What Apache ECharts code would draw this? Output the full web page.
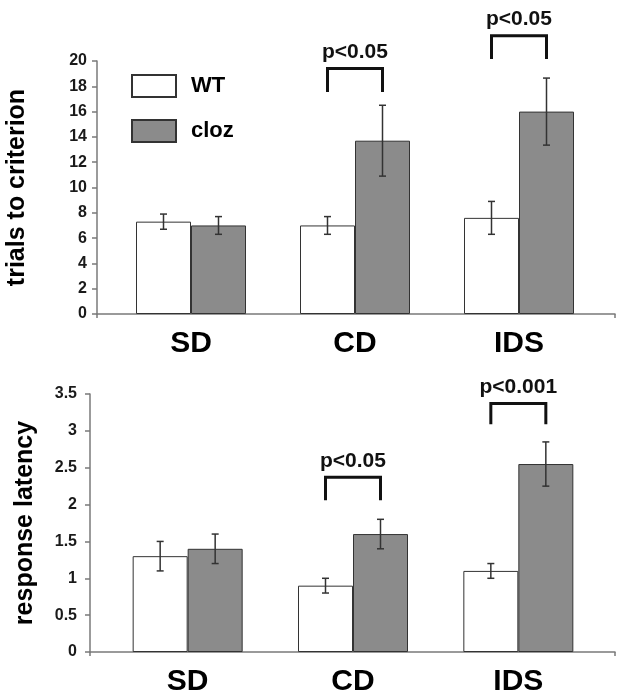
<!DOCTYPE html>
<html>
<head>
<meta charset="utf-8">
<script src="https://cdn.jsdelivr.net/npm/echarts@6/dist/echarts.min.js"></script>
<style>html,body{margin:0;padding:0;background:#fff;}#c{width:624px;height:699px;}</style>
</head>
<body>
<div id="c"></div>
<script>
const categories = ['SD', 'CD', 'IDS'];
const trialsTicks = [0, 20, 2];
const latencyTicks = [0, 3.5, 0.5];

const trialsWT = [7.3, 7.0, 7.6];
const trialsWTErr = [0.6, 0.7, 1.3];
const trialsCloz = [7.0, 13.7, 16.0];
const trialsClozErr = [0.7, 2.8, 2.65];

const latencyWT = [1.3, 0.9, 1.1];
const latencyWTErr = [0.2, 0.1, 0.1];
const latencyCloz = [1.4, 1.6, 2.55];
const latencyClozErr = [0.2, 0.2, 0.3];

const trialsSigCats = [1, 2];
const trialsSigTop = [19.4, 22.0];
const trialsSigBottom = [17.55, 20.15];
const trialsSigText = ['p<0.05', 'p<0.05'];

const latencySigCats = [1, 2];
const latencySigTop = [2.37, 3.37];
const latencySigBottom = [2.06, 3.09];
const latencySigText = ['p<0.05', 'p<0.001'];

const FONT = "'Liberation Sans', Arial, sans-serif";
const BAR_W = 55;
const GRAY = '#8b8b8b';
const AXIS = '#7a7a7a';

function errData(vals, errs) {
  return vals.map((v, i) => [i, v - errs[i], v + errs[i]]);
}
function errRender(offset) {
  return function (params, api) {
    const c = api.value(0);
    const lo = api.coord([c, api.value(1)]);
    const hi = api.coord([c, api.value(2)]);
    const x = lo[0] + offset;
    const st = { stroke: '#333', lineWidth: 1.5 };
    return {
      type: 'group',
      children: [
        { type: 'line', shape: { x1: x, y1: lo[1], x2: x, y2: hi[1] }, style: st },
        { type: 'line', shape: { x1: x - 3.5, y1: lo[1], x2: x + 3.5, y2: lo[1] }, style: st },
        { type: 'line', shape: { x1: x - 3.5, y1: hi[1], x2: x + 3.5, y2: hi[1] }, style: st }
      ]
    };
  };
}
function sigData(cats, tops, bottoms) {
  return cats.map((c, i) => [c, tops[i], bottoms[i]]);
}
function sigRender(texts) {
  return function (params, api) {
    const c = api.value(0);
    const t = api.coord([c, api.value(1)]);
    const b = api.coord([c, api.value(2)]);
    const x1 = t[0] - BAR_W / 2, x2 = t[0] + BAR_W / 2;
    return {
      type: 'group',
      children: [
        { type: 'polyline', shape: { points: [[x1, b[1]], [x1, t[1]], [x2, t[1]], [x2, b[1]]] },
          style: { stroke: '#111', lineWidth: 3, fill: null } },
        { type: 'text', x: t[0], y: t[1] - 6,
          style: { text: texts[params.dataIndex], align: 'center', verticalAlign: 'bottom',
                   fontFamily: FONT, fontWeight: 'bold', fontSize: 21, fill: '#111' } }
      ]
    };
  };
}

const grids = [
  { left: 109, right: 23, top: 61, height: 253, outerBoundsMode: 'none' },
  { left: 97, right: 9, top: 61, height: 253, outerBoundsMode: 'none' },
  { left: 105, right: 23, top: 394, height: 258, outerBoundsMode: 'none' },
  { left: 90, right: 9, top: 394, height: 258, outerBoundsMode: 'none' }
];

function catAxis(gi) {
  return {
    type: 'category', gridIndex: gi, data: categories,
    axisLine: { show: false }, axisTick: { show: false },
    axisLabel: { fontFamily: FONT, fontWeight: 'bold', fontSize: 30, color: '#000', margin: 15 }
  };
}
function lineAxis(gi) {
  return {
    type: 'value', gridIndex: gi, min: 0, max: 1, interval: 1,
    axisLine: { show: true, lineStyle: { color: AXIS, width: 1.5 } },
    axisTick: { show: true, length: 4, lineStyle: { color: AXIS, width: 1.5 } },
    axisLabel: { show: false }, splitLine: { show: false }
  };
}
function valAxis(gi, ticks, name, offset, nameGap, labelMargin) {
  return {
    type: 'value', gridIndex: gi, min: ticks[0], max: ticks[1], interval: ticks[2], offset: offset,
    name: name, nameLocation: 'middle', nameGap: nameGap, nameRotate: 90, nameMoveOverlap: false,
    nameTextStyle: { fontFamily: FONT, fontWeight: 'bold', fontSize: 25, color: '#000' },
    axisLine: { show: true, lineStyle: { color: AXIS, width: 1.5 } },
    axisTick: { show: true, length: 5, lineStyle: { color: AXIS, width: 1.5 } },
    axisLabel: { fontFamily: FONT, fontWeight: 'bold', fontSize: 16, color: '#1a1a1a', margin: labelMargin },
    splitLine: { show: false }
  };
}
function hiddenY(gi) {
  return { type: 'value', gridIndex: gi, show: false, min: 0, max: 1 };
}

const barStyleWT = { color: '#fff', borderColor: '#333', borderWidth: 1 };
const barStyleCloz = { color: GRAY, borderColor: '#333', borderWidth: 1 };

const option = {
  backgroundColor: '#fff',
  animation: false,
  grid: grids,
  xAxis: [catAxis(0), lineAxis(1), catAxis(2), lineAxis(3)],
  yAxis: [
    valAxis(0, trialsTicks, 'trials to criterion', 12, 67, 10),
    hiddenY(1),
    valAxis(2, latencyTicks, 'response latency', 15, 52, 13),
    hiddenY(3)
  ],
  legend: {
    left: 126, top: 69, orient: 'vertical', itemWidth: 44, itemHeight: 22, itemGap: 21,
    icon: 'rect',
    textStyle: { fontFamily: FONT, fontWeight: 'bold', fontSize: 22, color: '#000', padding: [0, 0, 0, 10] },
    data: ['WT', 'cloz']
  },
  series: [
    { name: 'WT', type: 'bar', xAxisIndex: 0, yAxisIndex: 0, data: trialsWT, barWidth: BAR_W, barGap: '0%', itemStyle: barStyleWT },
    { name: 'cloz', type: 'bar', xAxisIndex: 0, yAxisIndex: 0, data: trialsCloz, barWidth: BAR_W, barGap: '0%', itemStyle: barStyleCloz },
    { type: 'custom', xAxisIndex: 0, yAxisIndex: 0, data: errData(trialsWT, trialsWTErr), renderItem: errRender(-BAR_W / 2), z: 5, encode: { x: 0, y: [1, 2] } },
    { type: 'custom', xAxisIndex: 0, yAxisIndex: 0, data: errData(trialsCloz, trialsClozErr), renderItem: errRender(BAR_W / 2), z: 5, encode: { x: 0, y: [1, 2] } },
    { type: 'custom', xAxisIndex: 0, yAxisIndex: 0, data: sigData(trialsSigCats, trialsSigTop, trialsSigBottom), renderItem: sigRender(trialsSigText), clip: false, z: 6, encode: { x: 0, y: [1, 2] } },

    { name: 'WT', type: 'bar', xAxisIndex: 2, yAxisIndex: 2, data: latencyWT, barWidth: BAR_W, barGap: '0%', itemStyle: barStyleWT },
    { name: 'cloz', type: 'bar', xAxisIndex: 2, yAxisIndex: 2, data: latencyCloz, barWidth: BAR_W, barGap: '0%', itemStyle: barStyleCloz },
    { type: 'custom', xAxisIndex: 2, yAxisIndex: 2, data: errData(latencyWT, latencyWTErr), renderItem: errRender(-BAR_W / 2), z: 5, encode: { x: 0, y: [1, 2] } },
    { type: 'custom', xAxisIndex: 2, yAxisIndex: 2, data: errData(latencyCloz, latencyClozErr), renderItem: errRender(BAR_W / 2), z: 5, encode: { x: 0, y: [1, 2] } },
    { type: 'custom', xAxisIndex: 2, yAxisIndex: 2, data: sigData(latencySigCats, latencySigTop, latencySigBottom), renderItem: sigRender(latencySigText), clip: false, z: 6, encode: { x: 0, y: [1, 2] } }
  ]
};

const chart = echarts.init(document.getElementById('c'), null, { renderer: 'canvas' });
chart.setOption(option);
</script>
</body>
</html>
